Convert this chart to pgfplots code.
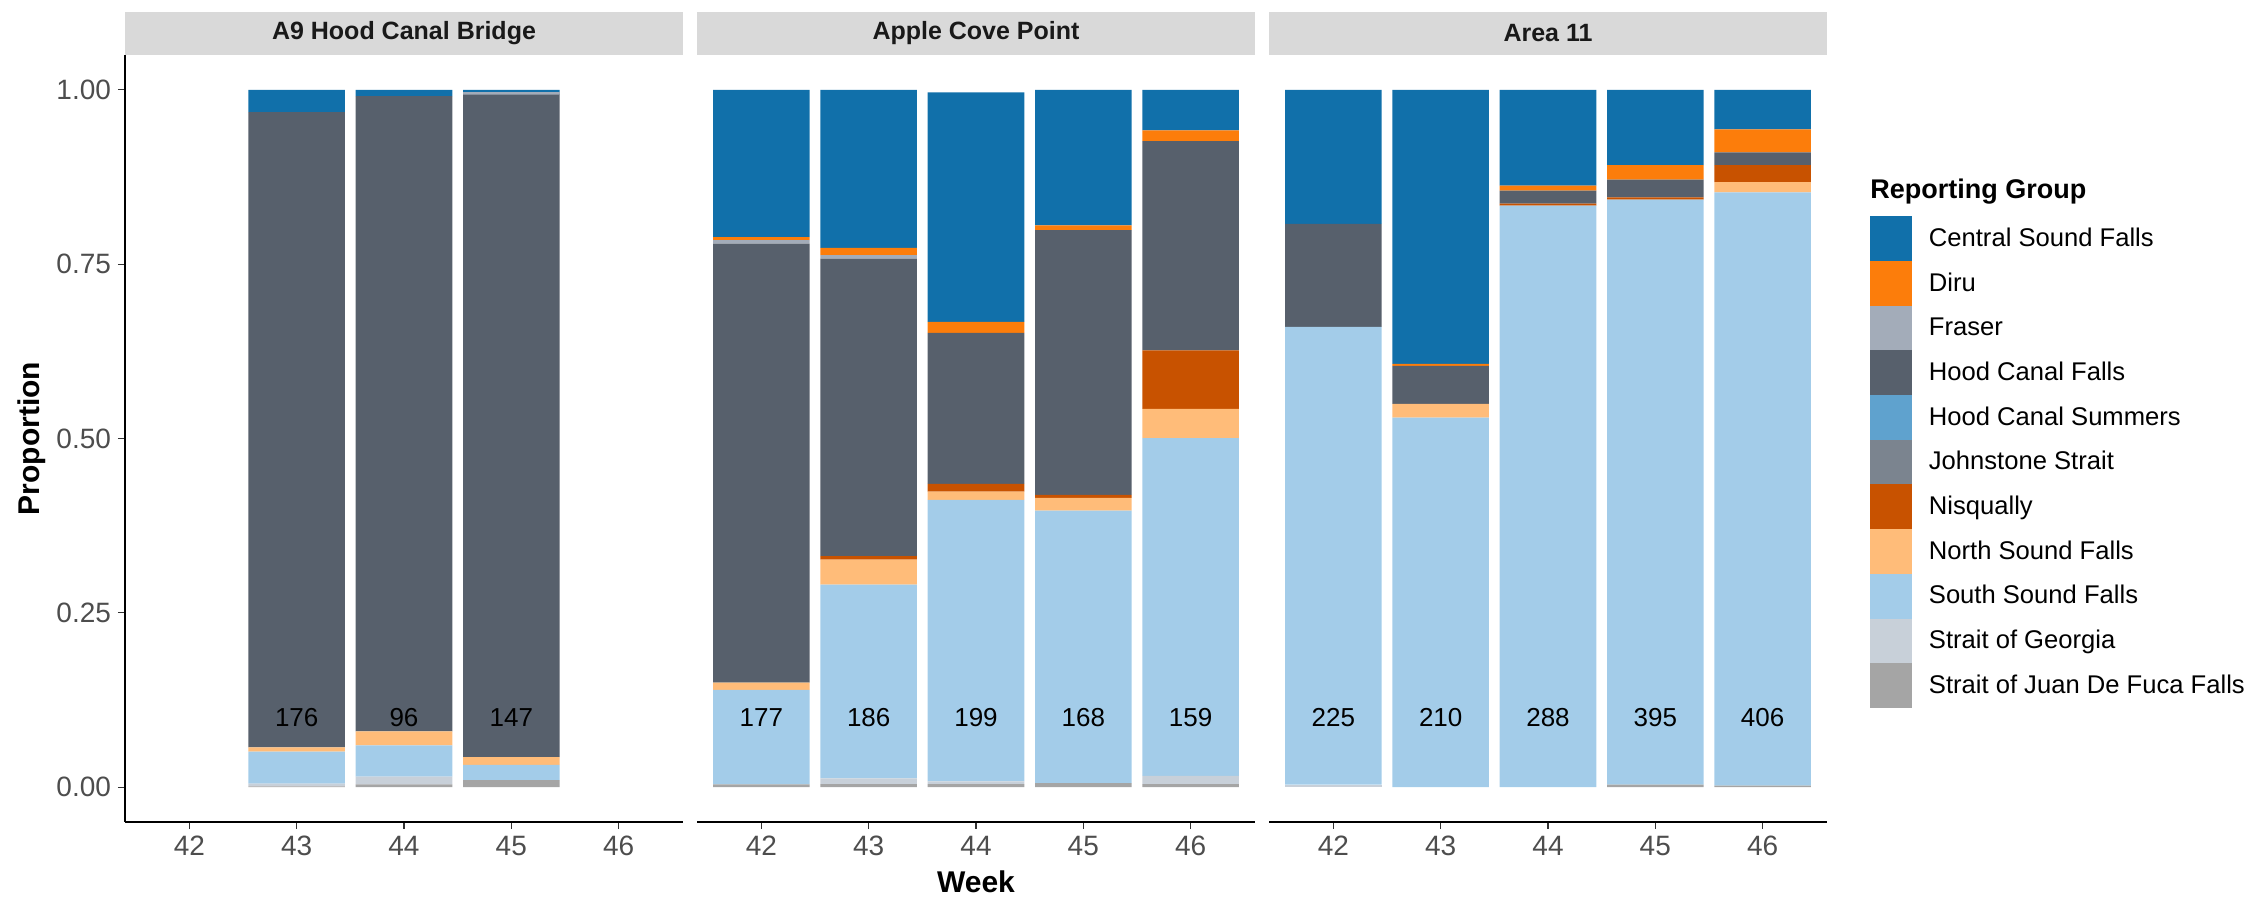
\documentclass[border=0pt]{standalone}
\usepackage{pgfplots}
\pgfplotsset{compat=1.18}
\usepackage{pgfplotstable}
\usepackage{fontspec}
\setmainfont{Liberation Sans}

\definecolor{cCSF}{HTML}{1170AA}
\definecolor{cDiru}{HTML}{FC7D0B}
\definecolor{cFra}{HTML}{A3ACB9}
\definecolor{cHCF}{HTML}{57606C}
\definecolor{cHCS}{HTML}{5FA2CE}
\definecolor{cJS}{HTML}{7B848F}
\definecolor{cNis}{HTML}{C85200}
\definecolor{cNSF}{HTML}{FFBC79}
\definecolor{cSSF}{HTML}{A3CCE9}
\definecolor{cSoG}{HTML}{C8D0D9}
\definecolor{cSJDF}{HTML}{A5A5A5}
\definecolor{stripgray}{HTML}{D9D9D9}
\definecolor{ticktext}{HTML}{4D4D4D}

% A9 Hood Canal Bridge
\pgfplotstableread{
wk SJDF SoG SSF NSF Nis JS HCS HCF Fra Diru CSF
43 0.001 0.004 0.046 0.006 0 0 0 0.911 0 0 0.032
44 0.004 0.011 0.045 0.020 0 0 0 0.911 0 0 0.009
45 0.010 0 0.022 0.011 0 0 0 0.950 0.004 0 0.003
}\tA
% Apple Cove Point
\pgfplotstableread{
wk SJDF SoG SSF NSF Nis JS HCS HCF Fra Diru CSF
42 0.004 0 0.1355 0.0103 0 0 0 0.6296 0.005 0.0044 0.2112
43 0.0044 0.008 0.278 0.036 0.005 0 0 0.4266 0.005 0.0103 0.2267
44 0.0044 0.0037 0.404 0.0117 0.011 0 0 0.2166 0 0.016 0.329
45 0.0059 0 0.3906 0.0184 0.0044 0 0 0.3796 0 0.0066 0.1945
46 0.0044 0.0117 0.4846 0.0419 0.0837 0 0 0.3003 0 0.0154 0.058
}\tB
% Area 11
\pgfplotstableread{
wk SJDF SoG SSF NSF Nis JS HCS HCF Fra Diru CSF
42 0 0.0037 0.6564 0 0 0 0 0.1476 0 0 0.1923
43 0 0 0.530 0.0198 0 0 0 0.0543 0 0.003 0.3929
44 0 0 0.834 0 0.003 0 0 0.0184 0 0.0073 0.1373
45 0.0037 0 0.839 0 0.003 0 0 0.0257 0 0.0206 0.1080
46 0.002 0 0.851 0.0147 0.0242 0 0 0.0184 0 0.033 0.0567
}\tC

\newcommand{\strip}[1]{%
  \fill[stripgray] (rel axis cs:0,1) rectangle ([yshift=21.5pt]rel axis cs:1,1);
  \node[font=\bfseries\fontsize{12.5}{14}\selectfont, text=black!90] at ([yshift=10.75pt]rel axis cs:0.5,1) {#1};%
}
\newcommand{\cnt}[2]{\node[font=\fontsize{13}{15}\selectfont, text=black] at (axis cs:#1,0.1) {#2};}

\pgfplotsset{
  panel/.style={
    scale only axis, width=279pt, height=383.5pt,
    xmin=41.4, xmax=46.6, ymin=-0.05, ymax=1.05,
    ybar stacked, bar width=0.9,
    xtick={42,43,44,45,46},
    /pgf/number format/assume math mode=true,
    tick label style={font=\fontsize{14}{16}\selectfont, text=ticktext},
    tick align=outside, major tick length=3.5pt,
    tick style={line width=0.55pt, color=black!80},
    axis x line*=bottom,
    axis line style={-, line width=0.6pt, black},
    clip=false,
    legend image code/.code={\path (0pt,-11.175pt) rectangle (20.8pt,11.175pt); \fill[##1] (0pt,-10.4pt) rectangle (20.8pt,10.4pt);},
  },
  noy/.style={axis y line=none, ytick=\empty},
  withy/.style={axis y line*=left, ytick={0,0.25,0.5,0.75,1}, yticklabels={0.00,0.25,0.50,0.75,1.00}},
}

\newcommand{\allseries}[1]{%
  \addplot[fill=cSJDF, draw=none] table[x=wk, y=SJDF] {#1};
  \addplot[fill=cSoG, draw=none] table[x=wk, y=SoG] {#1};
  \addplot[fill=cSSF, draw=none] table[x=wk, y=SSF] {#1};
  \addplot[fill=cNSF, draw=none] table[x=wk, y=NSF] {#1};
  \addplot[fill=cNis, draw=none] table[x=wk, y=Nis] {#1};
  \addplot[fill=cJS, draw=none] table[x=wk, y=JS] {#1};
  \addplot[fill=cHCS, draw=none] table[x=wk, y=HCS] {#1};
  \addplot[fill=cHCF, draw=none] table[x=wk, y=HCF] {#1};
  \addplot[fill=cFra, draw=none] table[x=wk, y=Fra] {#1};
  \addplot[fill=cDiru, draw=none] table[x=wk, y=Diru] {#1};
  \addplot[fill=cCSF, draw=none] table[x=wk, y=CSF] {#1};
}

\begin{document}
\begin{tikzpicture}
\path[use as bounding box] (0,0) rectangle (1133.5pt,450pt);

\begin{axis}[panel, withy, at={(62.5pt,39pt)}, anchor=south west,
  after end axis/.code={\strip{A9 Hood Canal Bridge}\cnt{43}{176}\cnt{44}{96}\cnt{45}{147}}]
\allseries{\tA}
\end{axis}

\begin{axis}[panel, noy, at={(348.5pt,39pt)}, anchor=south west,
  after end axis/.code={\strip{Apple Cove Point}\cnt{42}{177}\cnt{43}{186}\cnt{44}{199}\cnt{45}{168}\cnt{46}{159}}]
\allseries{\tB}
\end{axis}

\begin{axis}[panel, noy, at={(634.5pt,39pt)}, anchor=south west,
  after end axis/.code={\strip{Area 11}\cnt{42}{225}\cnt{43}{210}\cnt{44}{288}\cnt{45}{395}\cnt{46}{406}},
  reverse legend,
  legend style={at={(1.0771,0.7898)}, anchor=north west, draw=none, fill=none,
    inner sep=0pt, outer sep=0pt, font=\fontsize{12.8}{14}\selectfont,
    row sep=0pt, column sep=8.65pt, nodes={inner sep=0pt, anchor=west}},
  legend cell align=left]
\allseries{\tC}
\legend{Strait of Juan De Fuca Falls, Strait of Georgia, South Sound Falls, North Sound Falls, Nisqually, Johnstone Strait, Hood Canal Summers, Hood Canal Falls, Fraser, Diru, Central Sound Falls}
\end{axis}

\node[anchor=west, inner sep=0pt, font=\bfseries\fontsize{13.5}{15}\selectfont] at (935pt,354pt) {Reporting Group};
\node[rotate=90, font=\bfseries\fontsize{15}{17}\selectfont] at (16pt,230.75pt) {Proportion};
\node[font=\bfseries\fontsize{15}{17}\selectfont] at (488pt,9pt) {Week};
\end{tikzpicture}
\end{document}
